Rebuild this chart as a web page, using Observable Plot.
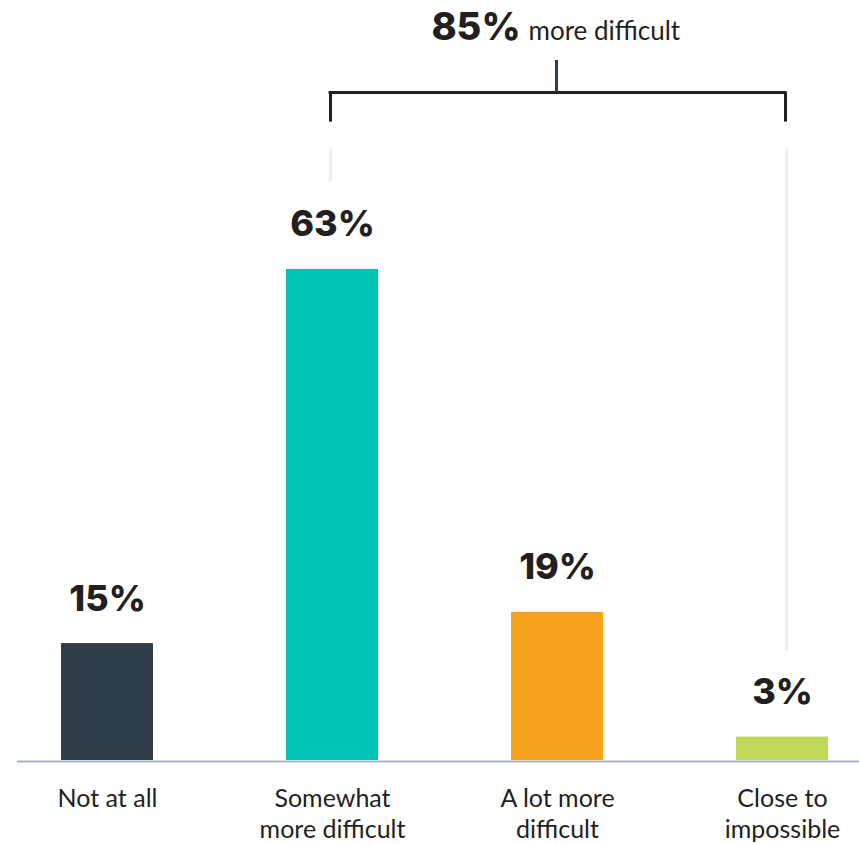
<!DOCTYPE html>
<html><head><meta charset="utf-8">
<script src="https://cdn.jsdelivr.net/npm/d3@7"></script>
<script src="https://cdn.jsdelivr.net/npm/@observablehq/plot@0.6"></script>
<style>
html,body{margin:0;padding:0;background:#fff;}
#chart svg{display:block;}
</style>
</head><body><div id="chart"></div>
<script>
// Data
const categories = ["Not at all", "Somewhat more difficult", "A lot more difficult", "Close to impossible"];
const tickLabels = ["Not at all", "Somewhat\nmore difficult", "A lot more\ndifficult", "Close to\nimpossible"];
const values = [15, 63, 19, 3];
const colors = ["#2e3d48", "#00c5b5", "#f7a21e", "#bed957"];
const totalValue = 85;
const totalText = "more difficult";
const bracketFrom = "Somewhat more difficult";
const bracketTo = "Close to impossible";
const bracketMid = "A lot more difficult";

const data = categories.map((c, i) => ({category: c, label: tickLabels[i], value: values[i]}));

const FONT = "Lato, 'Open Sans', sans-serif";
const NUMFONT = "Inter, 'Open Sans', sans-serif";
const INK = "#231f20";

// annotation levels (in value units of the y scale)
const yBracket = 85.7, yBracketEnd = 81.9, yMidTop = 89.8;
const yGuideTop = 78.6, yGuideLeftBottom = 74.2, yGuideRightBottom = 14.0;
const yTotal = 92.4;

const chart = Plot.plot({
  width: 859,
  height: 844,
  marginTop: 0,
  marginBottom: 84,
  marginLeft: 17,
  marginRight: 0,
  style: {fontFamily: FONT, background: "#fff"},
  x: {domain: categories, axis: null, paddingInner: 0.592, paddingOuter: 0.162, align: 0.589},
  y: {domain: [0, 97.5], axis: null},
  color: {domain: categories, range: colors},
  marks: [
    // light guide lines
    Plot.ruleX([bracketFrom], {x: d => d, y1: yGuideTop, y2: yGuideLeftBottom, dx: -2, stroke: "#eef1f4", strokeWidth: 3.5}),
    Plot.ruleX([bracketTo], {x: d => d, y1: yGuideTop, y2: yGuideRightBottom, dx: 4, stroke: "#eef1f4", strokeWidth: 3.5}),
    // bars
    Plot.barY(data, {x: "category", y: "value", fill: "category"}),
    // baseline
    Plot.ruleY([0], {stroke: "#a9b6c2", strokeWidth: 2, dy: 1}),
    // value labels
    Plot.text(data, {x: "category", y: "value", text: d => d.value + "%", dy: -33, lineAnchor: "bottom",
      fontFamily: NUMFONT, fontSize: 36, fontWeight: 800, fill: INK}),
    // category labels
    Plot.text(data, {x: "category", y: 0, text: "label", dy: 24, lineAnchor: "top",
      fontSize: 25, lineHeight: 1.25, fill: INK}),
    // bracket
    Plot.ruleY([yBracket], {x1: () => bracketFrom, x2: () => bracketTo, insetLeft: 42.5, insetRight: 41.5, stroke: INK, strokeWidth: 3}),
    Plot.ruleX([bracketFrom], {x: d => d, y1: yBracket, y2: yBracketEnd, dx: -2, stroke: INK, strokeWidth: 3}),
    Plot.ruleX([bracketTo], {x: d => d, y1: yBracket, y2: yBracketEnd, dx: 3, stroke: INK, strokeWidth: 3}),
    Plot.ruleX([bracketMid], {x: d => d, y1: yBracket, y2: yMidTop, dx: -1, stroke: "#2e3d48", strokeWidth: 3}),
    // total label
    Plot.text([totalValue], {x: () => bracketMid, y: yTotal, text: d => d + "%", textAnchor: "end", lineAnchor: "bottom", dx: -37,
      fontFamily: NUMFONT, fontSize: 38, fontWeight: 800, fill: INK}),
    Plot.text([totalText], {x: () => bracketMid, y: yTotal, text: d => d, textAnchor: "start", lineAnchor: "bottom", dx: -29,
      fontSize: 26, fill: INK})
  ]
});
document.getElementById("chart").appendChild(chart);
</script>
</body></html>
